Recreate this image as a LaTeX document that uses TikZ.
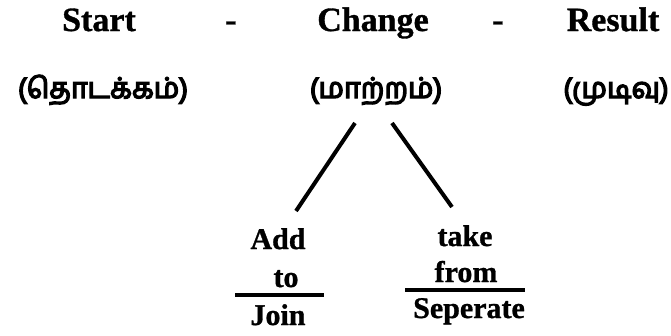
\documentclass[tikz,border=0pt]{standalone}
\usepackage{fontspec}
\setmainfont{Liberation Serif}[BoldFeatures={FakeBold=1}]
\newfontfamily\tamilfont[Script=Tamil,FakeBold=5]{Hind Madurai}
\begin{document}
\begin{tikzpicture}[x=1pt,y=-1pt,
  top/.style={anchor=base,inner sep=0pt,font=\fontsize{34}{36}\selectfont\bfseries},
  tam/.style={anchor=base,inner sep=0pt,font=\fontsize{28.5}{30}\selectfont\tamilfont},
  low/.style={anchor=base,inner sep=0pt,font=\fontsize{30}{32}\selectfont\bfseries},
  branch/.style={line width=4pt},
  bar/.style={line width=4pt}]
\useasboundingbox (0,0) rectangle (671,335);
\node[top] (start) at (99,31) {Start};
\node[top] (d1) at (231,31) {-};
\node[top] (change) at (373,31) {Change};
\node[top] (d2) at (498,31) {-};
\node[top] (result) at (613,31) {Result};
\node[tam] (t1) at (103,98) {(தொடக்கம்)};
\node[tam] (t2) at (376,98) {(மாற்றம்)};
\node[tam] (t3) at (616,98) {(முடிவு)};
\coordinate (lt) at (355,123);
\coordinate (lb) at (296,211);
\coordinate (rt) at (392,123);
\coordinate (rb) at (452,207);
\draw[branch] (lt) -- (lb);
\draw[branch] (rt) -- (rb);
\node[low] (add) at (278,249) {Add};
\node[low] (to) at (286,287) {to};
\coordinate (b1l) at (235,295);
\coordinate (b1r) at (324,295);
\draw[bar] (b1l) -- (b1r);
\node[low] (join) at (278,325) {Join};
\node[low] (take) at (465,246) {take};
\node[low] (from) at (466,282) {from};
\coordinate (b2l) at (405,290);
\coordinate (b2r) at (525,290);
\draw[bar] (b2l) -- (b2r);
\node[low] (sep) at (469,318) {Seperate};
\end{tikzpicture}
\end{document}
